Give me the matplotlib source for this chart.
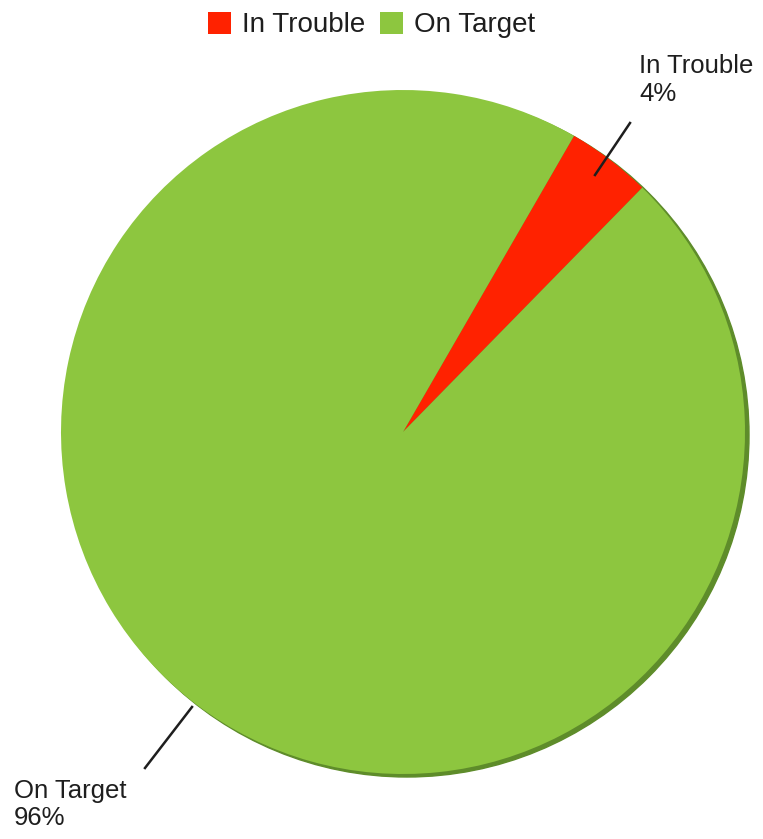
import matplotlib
matplotlib.use("Agg")
import matplotlib.pyplot as plt
from matplotlib.patches import Circle

labels = ["In Trouble", "On Target"]
values = [4, 96]
colors = ["#FF2200", "#8DC63F"]

W, H = 763, 839
fig = plt.figure(figsize=(W / 100, H / 100), dpi=100)
ax = fig.add_axes([0, 0, 1, 1])
ax.set_xlim(0, W)
ax.set_ylim(0, H)
ax.set_aspect("equal")
ax.axis("off")

cx, cy, r = 403, H - 432, 342

# subtle 3D edge behind the pie
ax.add_patch(Circle((cx + 4, cy - 3), r, color="#5E8C2A", zorder=1))

wedges, _ = ax.pie(values, colors=colors, startangle=45.6, counterclock=True,
                   center=(cx, cy), radius=r, frame=True,
                   wedgeprops=dict(linewidth=0, zorder=2))
ax.set_xlim(0, W)
ax.set_ylim(0, H)
ax.axis("off")

font = "Liberation Sans"
pcts = [f"{v}%" for v in values]
tc = "#1E1E1E"

# In Trouble label
ax.plot([630, 595], [H - 123, H - 175], color=tc, lw=1.8, zorder=3)
ax.text(639, H - 54, f"{labels[0]}\n{pcts[0]}", fontsize=18.5, family=font,
        color=tc, va="top", ha="left", linespacing=1.2)

# On Target label
ax.plot([145, 192], [H - 768, H - 707], color=tc, lw=1.8, zorder=3)
ax.text(14, H - 779, f"{labels[1]}\n{pcts[1]}", fontsize=18.5, family=font,
        color=tc, va="top", ha="left", linespacing=1.15)

leg = fig.legend(wedges, labels, loc="upper center", bbox_to_anchor=(0.487, 1.016),
                 ncol=2, frameon=False,
                 prop={"family": font, "size": 20},
                 handlelength=0.85, handleheight=0.85, handletextpad=0.4,
                 columnspacing=0.5)
for t in leg.get_texts():
    t.set_color(tc)

fig.savefig("out.png", dpi=100, facecolor="white")
